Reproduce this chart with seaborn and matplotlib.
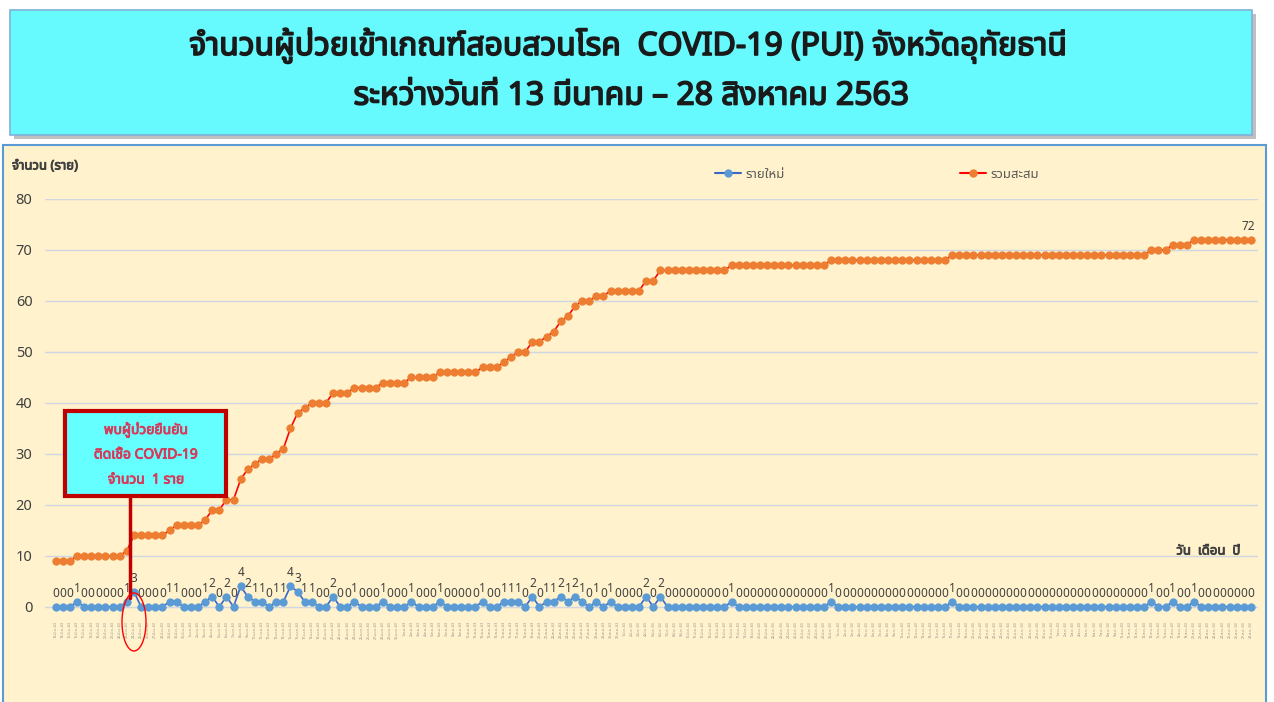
import pandas as pd
import matplotlib
matplotlib.use("Agg")
import matplotlib.pyplot as plt
import matplotlib.patheffects as pe
import seaborn as sns
from matplotlib import font_manager, ft2font
from matplotlib.patches import Rectangle, Ellipse
from matplotlib.lines import Line2D

# daily new PUI (รายใหม่), 13 Mar - 28 Aug 2563
new_cases = [
    0, 0, 0, 1, 0, 0, 0, 0, 0, 0,
    1, 3, 0, 0, 0, 0, 1, 1, 0, 0,
    0, 1, 2, 0, 2, 0, 4, 2, 1, 1,
    0, 1, 1, 4, 3, 1, 1, 0, 0, 2,
    0, 0, 1, 0, 0, 0, 1, 0, 0, 0,
    1, 0, 0, 0, 1, 0, 0, 0, 0, 0,
    1, 0, 0, 1, 1, 1, 0, 2, 0, 1,
    1, 2, 1, 2, 1, 0, 1, 0, 1, 0,
    0, 0, 0, 2, 0, 2, 0, 0, 0, 0,
    0, 0, 0, 0, 0, 1, 0, 0, 0, 0,
    0, 0, 0, 0, 0, 0, 0, 0, 0, 1,
    0, 0, 0, 0, 0, 0, 0, 0, 0, 0,
    0, 0, 0, 0, 0, 0, 1, 0, 0, 0,
    0, 0, 0, 0, 0, 0, 0, 0, 0, 0,
    0, 0, 0, 0, 0, 0, 0, 0, 0, 0,
    0, 0, 0, 0, 1, 0, 0, 1, 0, 0,
    1, 0, 0, 0, 0, 0, 0, 0, 0,
]

# cumulative (รวมสะสม)
cum_cases = (
    [9, 9, 9, 10, 10, 10, 10, 10, 10, 10,
     11, 14, 14, 14, 14, 14, 15, 16, 16, 16,
     16, 17, 19, 19, 21, 21, 25, 27, 28, 29,
     29, 30, 31, 35, 38, 39, 40, 40, 40, 42,
     42, 42, 43, 43, 43, 43, 44, 44, 44, 44,
     45, 45, 45, 45, 46, 46, 46, 46, 46, 46,
     47, 47, 47, 48, 49, 50, 50, 52, 52, 53,
     54, 56, 57, 59, 60, 60, 61, 61, 62, 62,
     62, 62, 62, 64, 64, 66, 66, 66, 66, 66,
     66, 66, 66, 66, 66]
    + [67] * 14 + [68] * 17 + [69] * 28 + [70] * 3 + [71] * 3 + [72] * 9
)

thai_months = {3: "มี.ค.", 4: "เม.ย.", 5: "พ.ค.", 6: "มิ.ย.", 7: "ก.ค.", 8: "ส.ค."}
dates = pd.date_range("2020-03-13", "2020-08-28", freq="D")
date_labels = [f"{d.day}-{thai_months[d.month]}-63" for d in dates]

df = pd.DataFrame({"idx": range(len(new_cases)), "new": new_cases, "cum": cum_cases})

# find a font that has Thai glyphs
thai_font = None
preferred = []
for f in font_manager.fontManager.ttflist:
    try:
        if 0x0E01 in ft2font.FT2Font(f.fname).get_charmap():
            preferred.append(f.name)
    except Exception:
        pass
for name in ["Noto Sans Thai", "Noto Sans", "DejaVu Sans"]:
    if name in preferred:
        thai_font = name
        break
if thai_font is None and preferred:
    thai_font = preferred[0]

sns.set_theme(style="white")
fams = ([thai_font] if thai_font else []) + ["DejaVu Sans"]
plt.rcParams["font.family"] = fams

W, H = 1274, 702
fig = plt.figure(figsize=(W / 100, H / 100), dpi=100)
fig.patch.set_facecolor("white")


def fx(x):
    return x / W


def fy(y):
    return 1 - y / H


def heavy(color, w=1.0):
    return [pe.withStroke(linewidth=w, foreground=color)]


# title box with shadow
fig.add_artist(Rectangle((fx(14), fy(139)), fx(1242), 125 / H, transform=fig.transFigure,
                         facecolor="#BFBFBF", edgecolor="none", zorder=0))
fig.add_artist(Rectangle((fx(10), fy(135)), fx(1242), 125 / H, transform=fig.transFigure,
                         facecolor="#66FAFF", edgecolor="#7FB2D9", lw=1.2, zorder=1))
fig.text(fx(628), fy(46), "จำนวนผู้ป่วยเข้าเกณฑ์สอบสวนโรค  COVID-19 (PUI) จังหวัดอุทัยธานี",
         ha="center", va="center", fontsize=23, fontweight="bold", color="#1A1A1A",
         path_effects=heavy("#1A1A1A", 1.2))
fig.text(fx(631), fy(96), "ระหว่างวันที่ 13 มีนาคม – 28 สิงหาคม 2563",
         ha="center", va="center", fontsize=23, fontweight="bold", color="#1A1A1A",
         path_effects=heavy("#1A1A1A", 1.2))

# chart panel
fig.add_artist(Rectangle((fx(3), fy(720)), fx(1263), 575 / H, transform=fig.transFigure,
                         facecolor="#FFF2CC", edgecolor="#5B9BD5", lw=1.5, zorder=0))

ax = fig.add_axes([fx(45), fy(617), fx(1213), (617 - 199) / H])
ax.set_facecolor("none")

sns.lineplot(data=df, x="idx", y="cum", ax=ax, color="#FF0000", lw=1.2,
             marker="o", markersize=5.2, markerfacecolor="#ED7D31",
             markeredgecolor="#ED7D31", zorder=4)
sns.lineplot(data=df, x="idx", y="new", ax=ax, color="#3A66C8", lw=1.2,
             marker="o", markersize=5.2, markerfacecolor="#5B9BD5",
             markeredgecolor="#5B9BD5", zorder=4)

for i, v in enumerate(new_cases):
    ax.annotate(str(v), (i, v), xytext=(0, 5), textcoords="offset points",
                ha="center", va="bottom", fontsize=8.5, color="#404040", zorder=5)
ax.annotate(str(cum_cases[-1]), (len(cum_cases) - 1, cum_cases[-1]), xytext=(-2, 5),
            textcoords="offset points", ha="center", va="bottom", fontsize=8.5,
            color="#404040", zorder=5)

ax.set_xlim(-1.5, 169)
ax.set_ylim(-2, 80)
ax.set_yticks(range(0, 81, 10))
ax.yaxis.grid(True, color="#D0D7E2", lw=1)
ax.set_xticks(range(len(date_labels)))
ax.set_xticklabels(date_labels, rotation=90, fontsize=2.6, color="#8C8C8C")
ax.tick_params(axis="x", length=0, pad=3)
ax.tick_params(axis="y", length=0, pad=9, labelsize=10.5, labelcolor="#404040")
for s in ax.spines.values():
    s.set_visible(False)
ax.set_xlabel("")
ax.set_ylabel("")

fig.text(fx(12), fy(166), "จำนวน (ราย)", ha="left", va="center", fontsize=9.5,
         fontweight="bold", color="#404040", path_effects=heavy("#404040", 0.6))
fig.text(fx(1240), fy(551), "วัน  เดือน  ปี", ha="right", va="center", fontsize=9.5,
         fontweight="bold", color="#404040", path_effects=heavy("#404040", 0.6))

# legend
h_new = Line2D([], [], color="#3A66C8", lw=1.5, marker="o", markersize=5,
               markerfacecolor="#5B9BD5", markeredgecolor="#5B9BD5")
h_cum = Line2D([], [], color="#FF0000", lw=1.5, marker="o", markersize=5,
               markerfacecolor="#ED7D31", markeredgecolor="#ED7D31")
fig.legend([h_new], ["รายใหม่"], loc="center left", bbox_to_anchor=(fx(703), fy(174)),
           frameon=False, fontsize=9.5, handlelength=2, handletextpad=0.3,
           labelcolor="#595959")
fig.legend([h_cum], ["รวมสะสม"], loc="center left", bbox_to_anchor=(fx(948), fy(174)),
           frameon=False, fontsize=9.5, handlelength=2, handletextpad=0.3,
           labelcolor="#595959")

# annotation for first confirmed case
fig.add_artist(Line2D([fx(130), fx(130)], [fy(497), fy(598)], transform=fig.transFigure,
                      color="#C00000", lw=2.5, zorder=6))
fig.add_artist(Rectangle((fx(65), fy(496)), fx(161), 85 / H, transform=fig.transFigure,
                         facecolor="#66FFFF", edgecolor="#C00000", lw=3, zorder=6))
for k, line in enumerate(["พบผู้ป่วยยืนยัน", "ติดเชื้อ COVID-19", "จำนวน  1 ราย"]):
    fig.text(fx(146), fy(430 + k * 25), line, ha="center", va="center", fontsize=10,
             color="#D63A5A", fontweight="bold", zorder=7,
             path_effects=heavy("#D63A5A", 0.6))
fig.add_artist(Ellipse((fx(134), fy(622)), 24 / W, 58 / H, transform=fig.transFigure,
                       facecolor="none", edgecolor="#FF0000", lw=1, zorder=6))

fig.savefig("out.png", dpi=100)
